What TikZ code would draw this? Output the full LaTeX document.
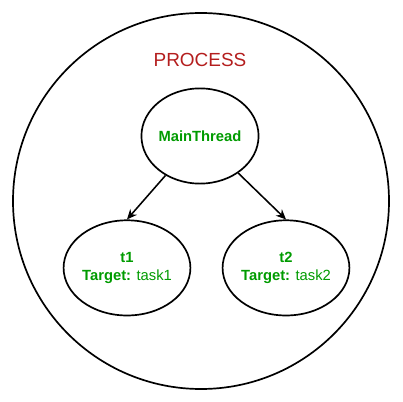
\documentclass[tikz,border=0pt]{standalone}
\usepackage{fontspec}
\setmainfont{Liberation Sans}
\usepackage{xcolor}
\usetikzlibrary{shapes,arrows.meta,positioning,calc}
\definecolor{procred}{RGB}{180,30,30}
\definecolor{threadgreen}{RGB}{0,155,0}

\begin{document}
\begin{tikzpicture}[
    node distance=0.875cm,
    process/.style={circle, draw=black, line width=1.2pt, minimum size=9.4cm, inner sep=0pt},
    thread/.style={ellipse, draw=black, line width=1.2pt, minimum width=2.85cm, minimum height=2.38cm, inner sep=0pt, align=center, text=threadgreen, font=\fontsize{10.5}{12.8}\selectfont},
    arrow/.style={-{Stealth[length=2.5mm, width=2.2mm, inset=0.8mm]}, line width=1.1pt}
]
    \useasboundingbox (-5.0,-6.65) rectangle (5.05,3.4);
    % Threads
    \node[thread] (main) at (0,0) {\textbf{MainThread}};
    \node[thread, below=of main, xshift=-1.825cm] (t1) {\textbf{t1}\\\textbf{Target:} task1};
    \node[thread, below=of main, xshift=2.15cm] (t2) {\textbf{t2}\\\textbf{Target:} task2};
    
    % Process
    \node[process] (proc) at (0.025,-1.625) {};
    \node[text=procred, font=\fontsize{13.5}{16}\selectfont] (title) at ($(main.north)+(0,0.7)$) {PROCESS};
    
    % Arrows
    \draw[arrow] (main) -- (t1.north);
    \draw[arrow] (main) -- (t2.north);
\end{tikzpicture}
\end{document}
